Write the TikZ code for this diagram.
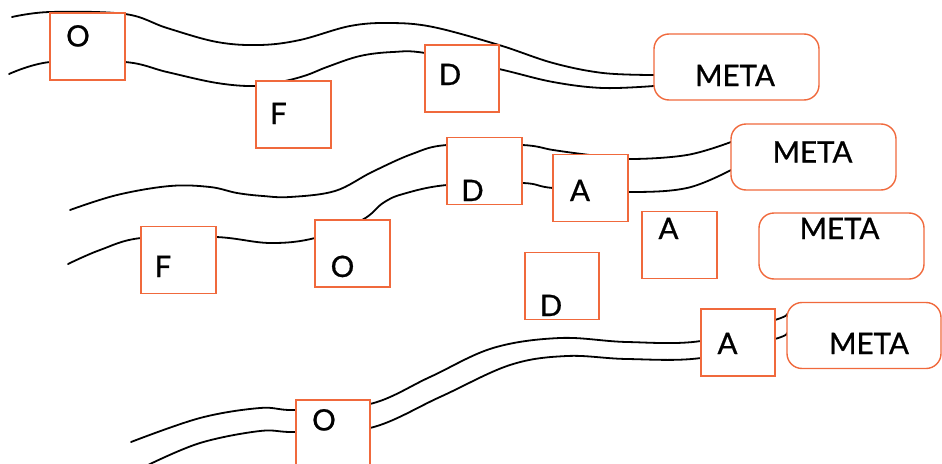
\documentclass[tikz,border=0pt]{standalone}
\usepackage{fontspec}
\setmainfont{Lato}[FakeBold=0.8]
\usetikzlibrary{backgrounds}
\definecolor{boxorange}{RGB}{240,105,60}
\begin{document}
\begin{tikzpicture}[x=1pt,y=-1pt,
  box/.style={draw=boxorange,line width=1.4pt,fill=white,minimum width=75pt,minimum height=67pt,inner sep=0pt,outer sep=0pt},
  metabox/.style={box,rounded corners=15pt,minimum width=165pt,minimum height=66pt},
  lbl/.style={font=\fontsize{29.5}{30}\selectfont,inner sep=0pt,anchor=base},
  wire/.style={line width=1.8pt,black,line cap=round}]
\useasboundingbox (0,0) rectangle (942,463);

% boxes
\node[box] (O1) at (87.5,46.5) {};
\node[box] (F1) at (293.5,114.5) {};
\node[box,minimum width=74pt] (D1) at (462,78.5) {};
\node[metabox] (M1) at (736.5,67) {};
\node[box] (D2) at (484.5,171) {};
\node[box] (A1) at (590.5,188) {};
\node[metabox] (M2) at (813.5,157) {};
\node[box] (F2) at (178.5,260) {};
\node[box] (O2) at (352.5,253.5) {};
\node[box,minimum width=74pt] (D3) at (562,286) {};
\node[box] (A2) at (679.5,245) {};
\node[metabox] (M3) at (841.5,246) {};
\node[box,minimum width=74pt] (A3) at (738,342.5) {};
\node[metabox,minimum width=154pt] (M4) at (864,335.5) {};
\node[box,minimum width=74pt] (O3) at (333,433.5) {};

% labels
\node[lbl] (tO1) at (78,46.5) {O};
\node[lbl] (tF1) at (278.5,124) {F};
\node[lbl] (tD1) at (450,85) {D};
\node[lbl] (tM1) at (735,86) {META};
\node[lbl] (tM2) at (812.5,162.5) {META};
\node[lbl] (tD2) at (472.5,201) {D};
\node[lbl] (tA1) at (580,201) {A};
\node[lbl] (tF2) at (163,277) {F};
\node[lbl] (tO2) at (342.5,277) {O};
\node[lbl] (tD3) at (551,316) {D};
\node[lbl] (tA2) at (668.5,239) {A};
\node[lbl] (tM3) at (839.5,239) {META};
\node[lbl] (tA3) at (727.5,354) {A};
\node[lbl] (tM4) at (869,354) {META};
\node[lbl] (tO3) at (324,430.5) {O};

% free ends
\coordinate (s1a) at (12,17);
\coordinate (s1b) at (9,74);
\coordinate (s2a) at (70,210);
\coordinate (s2b) at (68,264);
\coordinate (s3a) at (131,442);
\coordinate (s3b) at (148,465);

\begin{pgfonlayer}{background}
\draw[wire] plot[smooth,tension=0.6] coordinates {(s1a) (O1.west |- 0,12) (O1.east |- 0,14) (167,28) (217,42) (260,45) (300,40) (350,26) (390,23) (433,27) (D1.north east) (553,63) (603,73) (M1.west |- 0,75)};
\draw[wire] plot[smooth,tension=0.6] coordinates {(s1b) (O1.west |- 0,62) (O1.east |- 0,62) (167,72) (217,83) (F1.west |- 0,86) (285,0 |- F1.north) (307,75) (327,67) (360,56) (393,52) (D1.west |- 0,53) (D1.east |- 0,69) (553,82) (603,88) (M1.west |- 0,86)};
\draw[wire] plot[smooth,tension=0.6] coordinates {(s2a) (117,195) (170,186) (210,187) (237,193) (263,196) (290,197) (335,191) (372,172) (412,154) (D2.west |- 0,145) (D2.east |- 0,145) (553,150) (586,0 |- A1.north) (A1.east |- 0,159) (687,155) (M2.west |- 0,142)};
\draw[wire] plot[smooth,tension=0.6] coordinates {(s2b) (100,250) (F2.west |- 0,238) (F2.east |- 0,237) (270,243) (O2.west |- 0,238) (362,0 |- O2.north) (383,203) (403,194) (D2.west |- 0,185) (D2.east |- 0,183) (A1.west |- 0,188) (A1.east |- 0,192) (687,188) (M2.west |- 0,170)};
\draw[wire] plot[smooth,tension=0.6] coordinates {(s3a) (200,418) (260,408) (O3.west |- 0,410) (O3.east |- 0,404) (430,377) (493,348) (560,338) (627,342) (A3.west |- 0,341) (A3.east |- 0,320) (M4.west |- 0,314)};
\draw[wire] plot[smooth,tension=0.6] coordinates {(s3b) (200,443) (260,431) (O3.west |- 0,432) (O3.east |- 0,428) (440,397) (510,365) (567,356) (627,359) (A3.west |- 0,358) (A3.east |- 0,339) (M4.west |- 0,333)};
\end{pgfonlayer}
\end{tikzpicture}
\end{document}
